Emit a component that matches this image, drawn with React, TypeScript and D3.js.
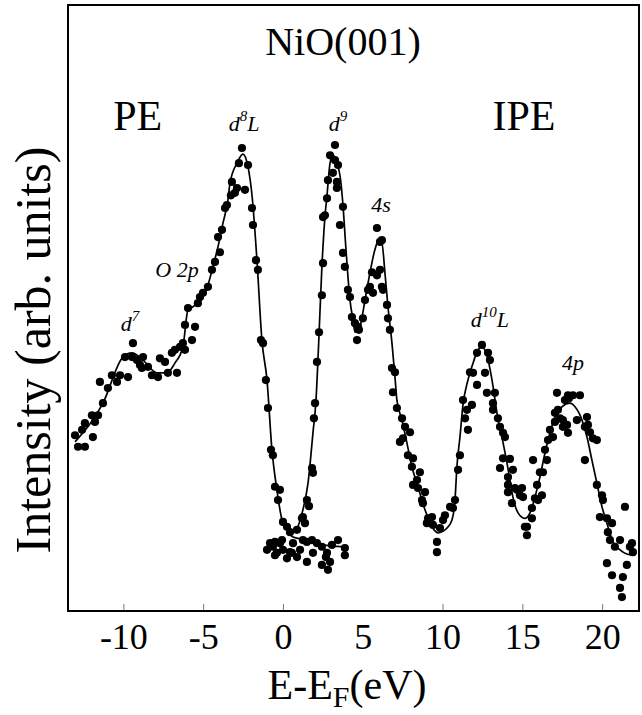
import React, { useRef, useEffect } from 'react';
import * as d3 from 'd3';

// fitted curves, [E - E_F (eV), intensity (arb. units)]
const peFit: [number, number][] = [
  [-13.03, 27.9], [-11.28, 34.3], [-10.03, 41.9], [-9.46, 42.6], [-8.77, 41.4], [-7.9, 39.3],
  [-7.27, 39.3], [-6.77, 40.9], [-6.27, 43.6], [-5.95, 49.7], [-5.64, 50.2], [-5.01, 51.8],
  [-4.7, 53.8], [-4.39, 56.8], [-4.07, 60.1], [-3.76, 64.0], [-3.45, 67.8], [-3.32, 70.6],
  [-2.88, 73.9], [-2.51, 75.4], [-2.19, 73.3], [-1.94, 68.6], [-1.63, 57.9], [-1.32, 44.7],
  [-1.0, 38.1], [-0.69, 26.6], [-0.38, 20.0], [-0.06, 15.0], [0.25, 13.4], [0.63, 12.2],
  [1.5, 11.7], [2.51, 10.9], [3.76, 10.6],
];

const ipeFit: [number, number][] = [
  [0.44, 13.4], [0.63, 12.9], [1.25, 16.7], [1.57, 21.1], [1.88, 29.4], [2.07, 34.8],
  [2.22, 43.1], [2.44, 56.8], [2.63, 65.0], [2.76, 68.6], [2.95, 73.9], [3.13, 75.2],
  [3.57, 71.9], [3.76, 67.0], [3.95, 59.6], [4.2, 51.3], [4.39, 48.0], [4.51, 46.0],
  [4.82, 46.9], [5.14, 51.3], [5.45, 55.8], [5.76, 59.6], [5.95, 60.9], [6.2, 60.7],
  [6.39, 55.8], [6.58, 50.2], [6.83, 44.2], [7.02, 38.6], [7.14, 34.8], [7.46, 31.5],
  [7.77, 27.7], [8.08, 23.8], [8.46, 20.5], [8.9, 16.7], [9.34, 13.9], [9.71, 12.9],
  [10.28, 13.7], [10.59, 15.0], [10.78, 18.3], [10.9, 23.8], [11.09, 28.7], [11.28, 34.0],
  [11.59, 38.1], [11.91, 40.9], [12.22, 43.1], [12.47, 43.6], [12.78, 42.2], [13.1, 38.1],
  [13.41, 32.7], [13.72, 28.7], [14.04, 24.4], [14.22, 21.6], [14.41, 18.8], [14.73, 16.2],
  [15.16, 15.3], [15.48, 16.2], [15.79, 18.8], [16.1, 22.1], [16.42, 26.1], [16.73, 29.4],
  [17.04, 32.0], [17.48, 33.7], [17.98, 34.3], [18.3, 33.7], [18.74, 31.5], [19.05, 28.7],
  [19.36, 24.9], [19.67, 21.1], [19.99, 17.2], [20.3, 14.5], [20.68, 11.4], [21.12, 10.1],
  [21.55, 9.4], [21.93, 9.2],
];

// measured points, photoemission side
const pePoints: [number, number][] = [
  [-13.03, 29.0], [-12.84, 27.1], [-12.41, 27.1], [-12.59, 29.9], [-12.41, 31.0], [-11.97, 32.3],
  [-11.91, 28.7], [-11.78, 31.2], [-11.59, 32.3], [-11.28, 34.3], [-11.47, 37.8], [-10.97, 36.8],
  [-10.72, 38.9], [-10.4, 37.8], [-10.21, 38.9], [-9.9, 41.9], [-9.71, 38.6], [-9.4, 44.2],
  [-9.46, 41.9], [-9.15, 41.4], [-8.96, 40.6], [-8.77, 41.9], [-8.84, 40.1], [-8.46, 40.3],
  [-8.21, 38.9], [-7.83, 38.6], [-7.71, 41.7], [-7.39, 41.1], [-7.21, 39.3], [-6.96, 42.6],
  [-6.64, 39.3], [-6.77, 43.1], [-6.45, 43.6], [-6.27, 44.2], [-6.14, 43.1], [-5.7, 44.7],
  [-6.14, 47.2], [-5.51, 46.9], [-5.95, 50.0], [-5.33, 50.8], [-5.2, 51.8], [-5.01, 52.5],
  [-4.7, 53.5], [-4.45, 56.3], [-4.26, 57.6], [-3.95, 59.2], [-4.07, 61.7], [-3.82, 62.9],
  [-3.63, 66.5], [-3.51, 67.0], [-3.26, 68.6], [-3.2, 70.8], [-3.01, 69.0], [-2.88, 69.8],
  [-2.76, 73.9], [-2.57, 76.4], [-2.38, 69.5], [-2.19, 73.6], [-1.94, 66.5], [-1.88, 63.7],
  [-1.69, 57.9], [-1.57, 56.3], [-1.38, 44.7], [-1.25, 44.2], [-1.07, 38.1], [-0.94, 33.5],
  [-0.75, 26.6], [-0.63, 25.7], [-0.5, 20.5], [-0.19, 20.0], [-0.31, 18.3], [0.0, 14.7],
  [0.25, 13.9], [0.44, 13.0], [-0.81, 11.2], [-1.0, 10.1], [-0.5, 11.4], [-0.19, 11.2],
  [-0.38, 9.6], [0.0, 10.1], [0.25, 8.7], [0.56, 9.6], [0.88, 8.9], [1.07, 10.1],
  [1.5, 11.4], [1.82, 11.7], [2.13, 11.2], [1.88, 9.6], [2.44, 10.6], [2.76, 9.6],
  [3.07, 10.9], [3.45, 11.7], [3.88, 10.4], [3.88, 9.2], [1.5, 8.1], [2.44, 7.6],
  [2.95, 8.1], [2.82, 6.8], [2.69, 8.9], [-0.63, 10.6], [0.44, 9.7], [0.63, 11.2],
  [1.25, 11.7], [-0.06, 11.7], [-0.5, 9.2],
];

// measured points, inverse photoemission side
const ipePoints: [number, number][] = [
  [0.88, 13.4], [1.19, 15.3], [1.38, 14.5], [1.25, 15.5], [1.5, 18.3], [1.63, 17.3],
  [1.82, 23.6], [1.88, 22.8], [1.94, 31.8], [2.01, 34.3], [2.13, 41.1], [2.26, 46.0],
  [2.44, 52.1], [2.51, 57.4], [2.63, 65.3], [2.51, 65.0], [2.76, 68.1], [2.82, 71.1],
  [2.95, 75.2], [3.13, 72.3], [3.26, 76.9], [3.26, 74.4], [3.45, 73.6], [3.38, 70.8],
  [3.38, 69.8], [3.76, 66.7], [3.57, 63.7], [3.76, 59.1], [3.88, 56.8], [4.07, 53.0],
  [4.2, 51.8], [4.32, 48.5], [4.51, 47.5], [4.64, 44.7], [4.7, 46.9], [4.76, 46.4],
  [5.01, 48.3], [5.14, 51.3], [5.33, 53.0], [5.45, 53.5], [5.64, 52.5], [5.58, 55.9],
  [5.89, 55.4], [6.08, 56.3], [5.89, 63.2], [6.08, 60.9], [6.2, 61.2], [6.2, 53.5],
  [6.27, 53.0], [6.52, 50.5], [6.58, 48.3], [6.7, 46.4], [6.83, 40.1], [7.02, 39.4],
  [6.89, 36.1], [7.14, 33.5], [7.46, 31.8], [7.65, 30.4], [7.96, 29.5], [7.33, 27.9],
  [7.52, 28.5], [7.83, 25.7], [8.15, 25.2], [8.08, 23.8], [8.58, 22.9], [8.4, 21.6],
  [8.15, 20.8], [8.46, 20.3], [8.9, 19.6], [8.71, 18.3], [8.77, 17.8], [9.09, 15.3],
  [9.02, 14.5], [9.34, 15.5], [9.4, 14.2], [9.84, 13.7], [9.65, 11.4], [9.65, 9.7],
  [10.03, 15.0], [10.15, 15.8], [10.47, 17.2], [10.65, 17.0], [10.78, 18.3], [10.97, 23.3],
  [11.09, 25.7], [11.41, 31.8], [11.53, 33.2], [11.59, 29.9], [11.84, 34.0], [11.28, 34.8],
  [11.72, 39.4], [11.91, 39.3], [12.16, 42.6], [12.47, 43.9], [12.85, 42.6], [12.97, 41.4],
  [12.66, 39.3], [12.16, 37.3], [12.78, 36.0], [13.28, 36.0], [13.16, 34.3], [13.16, 33.2],
  [13.47, 31.8], [13.6, 30.4], [13.79, 29.4], [13.91, 28.7], [13.79, 25.2], [14.22, 25.1],
  [13.6, 23.6], [14.41, 23.3], [14.66, 20.0], [14.1, 22.1], [14.1, 20.8], [14.1, 19.6],
  [14.54, 20.3], [14.98, 20.3], [14.85, 19.1], [15.04, 18.8], [14.35, 17.8], [15.29, 13.9],
  [15.29, 12.5], [15.6, 15.3], [15.16, 13.9], [15.6, 17.0], [15.79, 18.6], [15.92, 20.8],
  [16.1, 22.9], [15.67, 24.9], [16.29, 22.9], [16.54, 24.9], [16.42, 26.6], [16.61, 28.2],
  [16.73, 29.9], [16.92, 28.7], [17.04, 32.7], [17.23, 33.2], [17.17, 36.0], [17.54, 31.5],
  [17.54, 30.4], [17.86, 29.4], [17.86, 35.6], [17.67, 34.8], [18.17, 35.6], [18.61, 35.6],
  [18.42, 31.5], [17.92, 35.1], [15.98, 18.3], [16.23, 19.1], [17.36, 31.8], [17.04, 31.2],
  [17.8, 30.7], [19.05, 32.0], [19.11, 30.7], [18.92, 30.4], [19.24, 29.5], [19.42, 28.5],
  [19.67, 28.2], [18.92, 24.9], [19.67, 20.8], [19.99, 19.1], [20.05, 18.3], [19.86, 15.5],
  [20.3, 15.3], [20.62, 14.5], [20.36, 13.0], [20.49, 11.7], [20.8, 10.6], [21.12, 11.7],
  [21.43, 17.2], [21.74, 10.6], [21.93, 9.7], [21.87, 11.2], [20.3, 7.9], [20.62, 5.9],
  [21.3, 5.6], [21.55, 7.6], [21.12, 3.8], [21.24, 2.3],
];

const xTickLabels = [-10, -5, 0, 5, 10, 15, 20];
const xTickMarks = [-10, -5, 0, 10, 15, 20];

// peak assignments: text, superscript, trailing text, position (E, intensity)
const peakLabels = [
  { base: 'd', sup: '7', tail: '', x: -9.59, y: 46.2 },
  { base: 'O 2p', sup: '', tail: '', x: -6.64, y: 55.1 },
  { base: 'd', sup: '8', tail: 'L', x: -2.44, y: 79.2 },
  { base: 'd', sup: '9', tail: '', x: 3.45, y: 79.2 },
  { base: '4s', sup: '', tail: '', x: 6.14, y: 65.8 },
  { base: 'd', sup: '10', tail: 'L', x: 12.97, y: 46.9 },
  { base: '4p', sup: '', tail: '', x: 18.17, y: 39.8 },
];

const regionLabels = [
  { text: 'PE', x: -9.1, y: 79.4, size: 42 },
  { text: 'IPE', x: 15.1, y: 79.4, size: 42 },
  { text: 'NiO(001)', x: 3.76, y: 91.7, size: 40 },
];

const W = 642;
const H = 715;
const FONT = 'Liberation Serif';

const App = () => {
  const svgRef = useRef<SVGSVGElement>(null);

  useEffect(() => {
    const svg = d3.select(svgRef.current);
    svg.selectAll('*').remove();

    const margin = { top: 5, right: 3, bottom: 104, left: 68 };
    const innerW = W - margin.left - margin.right;
    const innerH = H - margin.top - margin.bottom;

    const x = d3.scaleLinear().domain([-13.47, 22.31]).range([0, innerW]);
    const y = d3.scaleLinear().domain([0, 100]).range([innerH, 0]);

    const g = svg.append('g').attr('transform', `translate(${margin.left},${margin.top})`);

    // small inner tick marks
    g.append('g')
      .attr('transform', `translate(0,${innerH})`)
      .call(d3.axisTop(x).tickValues(xTickMarks).tickSize(7).tickFormat(() => ''))
      .call(a => a.select('.domain').remove())
      .selectAll('line')
      .attr('stroke', '#777')
      .attr('stroke-width', 1);

    // tick labels
    g.append('g')
      .attr('transform', `translate(0,${innerH})`)
      .call(d3.axisBottom(x).tickValues(xTickLabels).tickSize(0).tickPadding(12))
      .call(a => a.select('.domain').remove())
      .selectAll('text')
      .style('font-family', FONT)
      .style('font-size', '36px')
      .attr('fill', '#000')
      .text(d => String(d));

    // frame
    g.append('rect')
      .attr('width', innerW)
      .attr('height', innerH)
      .attr('fill', 'none')
      .attr('stroke', '#000')
      .attr('stroke-width', 2);

    const line = d3.line<[number, number]>()
      .x(d => x(d[0]))
      .y(d => y(d[1]))
      .curve(d3.curveMonotoneX);

    [peFit, ipeFit].forEach(fit => {
      g.append('path')
        .datum(fit)
        .attr('d', line)
        .attr('fill', 'none')
        .attr('stroke', '#000')
        .attr('stroke-width', 1.7);
    });

    g.selectAll('.pt')
      .data(pePoints.concat(ipePoints))
      .enter().append('circle')
      .attr('class', 'pt')
      .attr('cx', d => x(d[0]))
      .attr('cy', d => y(d[1]))
      .attr('r', 4.1)
      .attr('fill', '#000');

    // peak labels
    peakLabels.forEach(p => {
      const t = g.append('text')
        .attr('x', x(p.x))
        .attr('y', y(p.y))
        .attr('text-anchor', 'middle')
        .style('font-family', FONT)
        .style('font-style', 'italic')
        .style('font-size', '22px');
      t.append('tspan').text(p.base);
      if (p.sup) t.append('tspan').style('font-size', '15px').attr('dy', -10).text(p.sup);
      if (p.tail) t.append('tspan').attr('dy', 10).text(p.tail);
    });

    regionLabels.forEach(r => {
      g.append('text')
        .attr('x', x(r.x))
        .attr('y', y(r.y))
        .attr('text-anchor', 'middle')
        .style('font-family', FONT)
        .style('font-size', `${r.size}px`)
        .text(r.text);
    });

    // axis titles
    const xl = svg.append('text')
      .attr('x', 347)
      .attr('y', 699)
      .attr('text-anchor', 'middle')
      .style('font-family', FONT)
      .style('font-size', '42px');
    xl.append('tspan').text('E-E');
    xl.append('tspan').style('font-size', '30px').attr('dy', 8).text('F');
    xl.append('tspan').attr('dy', -8).text('(eV)');

    svg.append('text')
      .attr('transform', `translate(50,350) rotate(-90)`)
      .attr('text-anchor', 'middle')
      .style('font-family', FONT)
      .style('font-size', '50px')
      .text('Intensity (arb. units)');
  }, []);

  return (
    <svg
      ref={svgRef}
      width={W}
      height={H}
      style={{ position: 'absolute', left: 0, top: 0, background: '#fff' }}
    />
  );
};

export default App;
